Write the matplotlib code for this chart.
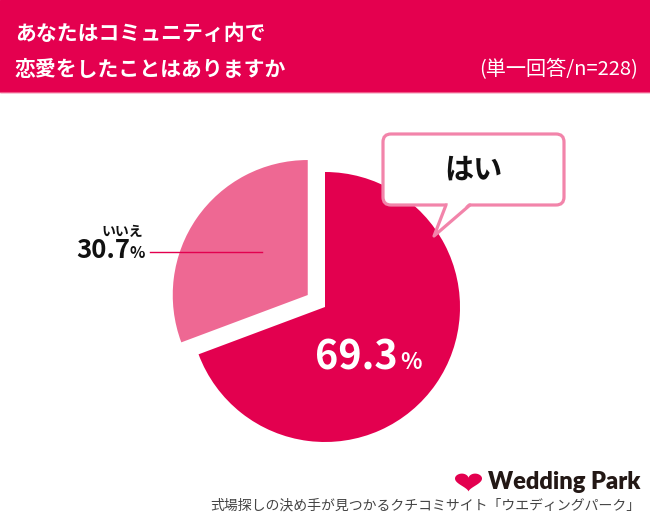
import numpy as np
import matplotlib
matplotlib.use("Agg")
import matplotlib.pyplot as plt
from matplotlib.patches import Rectangle, FancyBboxPatch, Polygon

plt.rcParams['font.family'] = ['Noto Sans CJK JP', 'DejaVu Sans']

# data
labels = ['はい', 'いいえ']
values = [69.3, 30.7]
colors = ['#E3004F', '#EE6893']

title_lines = ['あなたはコミュニティ内で', '恋愛をしたことはありますか']
subtitle = '(単一回答/n=228)'
footer = '式場探しの決め手が見つかるクチコミサイト「ウエディングパーク」'

W, H = 650, 526
fig = plt.figure(figsize=(6.5, 5.26), dpi=100)
ax = fig.add_axes([0, 0, 1, 1])


def Y(y):
    # pixel row (top-down) -> data y
    return H - y


# pie (explode is in data units here, radius is 135 px)
cx, cy, r = 325, 307, 135
ax.pie(values, colors=colors, explode=[0, 21], startangle=90,
       counterclock=False, center=(cx, Y(cy)), radius=r,
       wedgeprops=dict(linewidth=0))

ax.set_xlim(0, W)
ax.set_ylim(0, H)
ax.set_aspect('equal')
ax.axis('off')

# header band
ax.add_patch(Rectangle((0, Y(92)), W, 92, color='#E4004F', zorder=5))
ax.plot([0, W], [Y(91.5), Y(91.5)], color='#F05A8A', lw=0.8, zorder=6)
ax.text(15, Y(33), title_lines[0], color='white', fontsize=15,
        fontweight='bold', va='center', ha='left', zorder=7)
ax.text(15, Y(69), title_lines[1], color='white', fontsize=15,
        fontweight='bold', va='center', ha='left', zorder=7)
ax.text(638, Y(70), subtitle, color='white', fontsize=14.5,
        va='center', ha='right', zorder=7)

# いいえ label
ax.plot([150, 262], [Y(252), Y(252)], color='#E3004F', lw=1.0, zorder=4)
ax.text(122, Y(232), labels[1], fontsize=10, fontweight='bold',
        ha='center', va='center', color='#111111')
ax.text(130, Y(258), f'{values[1]:.1f}', fontsize=18.5, fontweight='bold',
        ha='right', va='baseline', color='#111111')
ax.text(130, Y(258), '%', fontsize=11.5, fontweight='bold',
        ha='left', va='baseline', color='#111111')

# はい value inside slice
ax.text(398, Y(369), f'{values[0]:.1f}', fontsize=28.5, fontweight='bold',
        ha='right', va='baseline', color='white', zorder=4)
ax.text(400, Y(369), '%', fontsize=16, fontweight='bold',
        ha='left', va='baseline', color='white', zorder=4)

# speech bubble
pink = '#F284AA'
ax.add_patch(FancyBboxPatch((383, Y(205)), 181, 71,
                            boxstyle='round,pad=0,rounding_size=8',
                            facecolor='white', edgecolor=pink, lw=2.3, zorder=8))
tail = [(448, Y(203)), (469, Y(203)), (434, Y(236))]
ax.add_patch(Polygon(tail, closed=True, facecolor='white', edgecolor='none', zorder=9))
ax.plot([446, 434, 470], [Y(205), Y(236), Y(205)], color=pink, lw=2.3,
        solid_joinstyle='round', solid_capstyle='round', zorder=9)
ax.text(473, Y(170), labels[0], fontsize=21, fontweight='bold',
        ha='center', va='center', color='#111111', zorder=10)

# footer logo: heart shape
t = np.linspace(0, 2 * np.pi, 200)
hx = 16 * np.sin(t) ** 3
hy = 13 * np.cos(t) - 5 * np.cos(2 * t) - 2 * np.cos(3 * t) - np.cos(4 * t)
hx = 468.5 + hx * (27 / 32)
hy = Y(481) + hy * (18 / 29)
ax.add_patch(Polygon(np.column_stack([hx, hy]), closed=True,
                     facecolor='#E3004F', edgecolor='none'))
ax.text(640, Y(482), 'Wedding Park', family='Lato', fontweight='heavy',
        fontsize=17, color='#231815', ha='right', va='center')
ax.text(640, Y(506), footer, fontsize=10, color='#444444',
        ha='right', va='center')

fig.savefig('out.png', dpi=100)
